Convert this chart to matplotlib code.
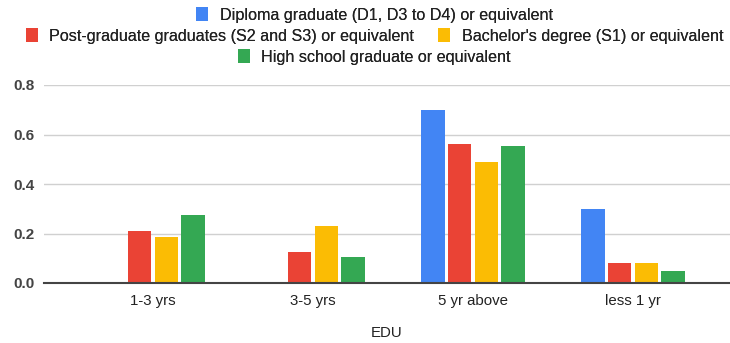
import numpy as np
import matplotlib
matplotlib.use("Agg")
import matplotlib.pyplot as plt
from matplotlib.patches import Patch

plt.rcParams["font.family"] = ["Liberation Sans", "DejaVu Sans"]

# ---- data ----
categories = ["1-3 yrs", "3-5 yrs", "5 yr above", "less 1 yr"]
series_names = [
    "Diploma graduate (D1, D3 to D4) or equivalent",
    "Post-graduate graduates (S2 and S3) or equivalent",
    "Bachelor's degree (S1) or equivalent",
    "High school graduate or equivalent",
]
diploma = [0.0, 0.0, 0.70, 0.30]
postgrad = [0.21, 0.124, 0.563, 0.079]
bachelor = [0.187, 0.23, 0.487, 0.079]
highschool = [0.274, 0.104, 0.553, 0.05]
yticks = [0.0, 0.2, 0.4, 0.6, 0.8]

colors = ["#4285F4", "#EA4335", "#FBBC04", "#34A853"]
values = [diploma, postgrad, bachelor, highschool]

fig = plt.figure(figsize=(7.3, 3.43), dpi=100)
ax = fig.add_axes([44 / 730, 60 / 343, 686 / 730, 198 / 343])

x = np.arange(len(categories))
step = 1 / 6
width = 0.144
for i, (vals, c) in enumerate(zip(values, colors)):
    ax.bar(x + (i - 1.5) * step, vals, width=width, color=c, zorder=3)

ax.set_xlim((44 - 153) / 160, (730 - 153) / 160)
ax.set_ylim(0, 0.8)
ax.set_yticks(yticks)
ax.set_yticklabels([f"{v:.1f}" for v in yticks], fontsize=11, color="#444444",
                   fontweight="bold")
ax.set_xticks(x)
ax.set_xticklabels(categories, fontsize=10.8, color="#222222")
ax.tick_params(length=0, pad=8)
ax.tick_params(axis="y", pad=7)
ax.grid(axis="y", color="#d0d0d0", linewidth=1, zorder=0)
for s in ["top", "right", "left"]:
    ax.spines[s].set_visible(False)
ax.spines["bottom"].set_color("#444444")
ax.spines["bottom"].set_linewidth(1.5)
ax.spines["bottom"].set_zorder(4)
ax.set_xlabel("EDU", fontsize=10.8, color="#222222", labelpad=13)

# legend in three centred rows
rows = [[0], [1, 2], [3]]
row_y = [1 - 15 / 343, 1 - 36 / 343, 1 - 57 / 343]
for idx, y in zip(rows, row_y):
    handles = [Patch(facecolor=colors[k], edgecolor="none") for k in idx]
    labels = [series_names[k] for k in idx]
    leg = fig.legend(handles, labels, loc="center", bbox_to_anchor=(0.513, y),
                     ncol=len(idx), frameon=False, fontsize=11.6,
                     handlelength=0.75, handleheight=0.9, handletextpad=0.7,
                     columnspacing=1.5, borderpad=0, labelcolor="#222222")
    fig.add_artist(leg)

fig.savefig("out.png", dpi=100)
